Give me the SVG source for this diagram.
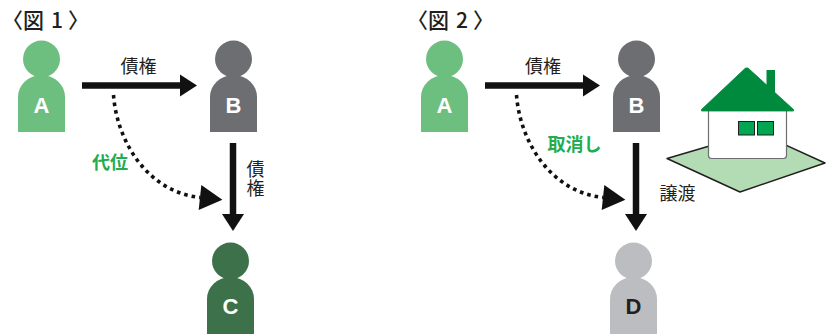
<svg xmlns="http://www.w3.org/2000/svg" xmlns:xlink="http://www.w3.org/1999/xlink" width="826" height="334" viewBox="0 0 826 334">
  <style>
    .jp { font-family: "Noto Sans CJK JP", "Noto Sans", sans-serif; font-size: 18px; fill: #231f20; }
    .vert { writing-mode: vertical-rl; text-orientation: upright; letter-spacing: 1px; }
    .title { font-size: 21px; font-weight: 500; }
    .green { fill: #22ac50; font-weight: 700; }
    .letter { font-family: "Liberation Sans", Arial, sans-serif; font-size: 22px; font-weight: 700; text-anchor: middle; }
    .solid { stroke: #111; stroke-width: 6.5; fill: none; }
    .dotted { stroke: #111; stroke-width: 3.6; fill: none; stroke-dasharray: 3.6 4; }
  </style>
  <defs>
    <!-- person silhouette, head centre at the origin -->
    <g id="person">
      <path d="M-23.5,73 V38 A23.5,22 0 0 1 23.5,38 V73 Z"/>
      <circle cx="0" cy="0" r="18.5"/>
    </g>
    <marker id="head" markerUnits="userSpaceOnUse" markerWidth="18" markerHeight="22" refX="0" refY="11" orient="auto" overflow="visible">
      <path d="M0,0 L17,11 L0,22 Z" fill="#111"/>
    </marker>
    <marker id="head-dot" markerUnits="userSpaceOnUse" markerWidth="23" markerHeight="25" refX="0" refY="12.5" orient="auto" overflow="visible">
      <path d="M0,0 L22.5,12.5 L0,25 Z" fill="#111"/>
    </marker>
  </defs>

  <!-- figure 1 -->
  <text class="jp title" y="27.5"><tspan x="2">〈</tspan><tspan x="23">図</tspan><tspan x="51">1</tspan><tspan x="68">〉</tspan></text>

  <g id="connectors">
    <line class="solid" x1="82" y1="85.5" x2="180" y2="85.5" marker-end="url(#head)"/>
    <line class="solid" x1="233" y1="143" x2="233" y2="214" marker-end="url(#head)"/>
    <path class="dotted" d="M113.5,95 C117,142 148,192 200,197.5" marker-end="url(#head-dot)"/>

    <line class="solid" x1="485" y1="85.5" x2="583" y2="85.5" marker-end="url(#head)"/>
    <line class="solid" x1="636" y1="143" x2="636" y2="214" marker-end="url(#head)"/>
    <path class="dotted" d="M516.5,95 C520,142 551,192 603,197.5" marker-end="url(#head-dot)"/>
  </g>

  <g id="label-saiken-1">
    <text class="jp" x="138.5" y="73" text-anchor="middle">債権</text>
  </g>
  <g id="label-saiken-2">
    <text class="jp vert" x="255.5" y="160">債権</text>
  </g>
  <g id="label-daii">
    <text class="jp green" x="110" y="169" text-anchor="middle">代位</text>
  </g>

  <g id="node-a1">
    <use xlink:href="#person" transform="translate(41.5,59)" fill="#6dbf80"/>
    <text class="letter" x="41.5" y="113" fill="#fff">A</text>
  </g>
  <g id="node-b1">
    <use xlink:href="#person" transform="translate(233.5,59)" fill="#6d6e71"/>
    <text class="letter" x="233.5" y="113" fill="#fff">B</text>
  </g>
  <g id="node-c1">
    <use xlink:href="#person" transform="translate(230.5,261)" fill="#3c714a"/>
    <text class="letter" x="230.5" y="313.5" fill="#fff">C</text>
  </g>

  <!-- figure 2 -->
  <text class="jp title" y="27.5"><tspan x="407">〈</tspan><tspan x="428">図</tspan><tspan x="456">2</tspan><tspan x="473">〉</tspan></text>

  <g id="label-saiken-3">
    <text class="jp" x="543" y="73" text-anchor="middle">債権</text>
  </g>
  <g id="label-torikeshi">
    <text class="jp green" x="574.5" y="151" text-anchor="middle">取消し</text>
  </g>
  <g id="label-joto">
    <text class="jp" x="677.5" y="200" text-anchor="middle">譲渡</text>
  </g>

  <g id="node-a2">
    <use xlink:href="#person" transform="translate(444.5,59)" fill="#6dbf80"/>
    <text class="letter" x="444.5" y="113" fill="#fff">A</text>
  </g>
  <g id="node-b2">
    <use xlink:href="#person" transform="translate(636.5,59)" fill="#6d6e71"/>
    <text class="letter" x="636.5" y="113" fill="#fff">B</text>
  </g>
  <g id="node-d2">
    <use xlink:href="#person" transform="translate(633.5,261)" fill="#bcbdc0"/>
    <text class="letter" x="633.5" y="313.5" fill="#231f20">D</text>
  </g>

  <g id="house">
    <polygon points="667,158.5 757,132 825,163 740,192" fill="#b3dbb4" stroke="#231f20" stroke-width="1.5" stroke-linejoin="round"/>
    <rect x="708.5" y="106" width="78" height="52.5" rx="3" fill="#fff" stroke="#6d6e71" stroke-width="1.2"/>
    <rect x="766.5" y="70" width="8.5" height="28" fill="#008a3e"/>
    <polygon points="701.5,109.5 745.5,68 748,68 793.5,109.5 793.5,111 701.5,111" fill="#008a3e" stroke="#008a3e" stroke-width="0.8" stroke-linejoin="round"/>
    <rect x="738.5" y="121.5" width="16" height="13.5" fill="#00a651" stroke="#231f20" stroke-width="1"/>
    <rect x="757.5" y="121.5" width="16" height="13.5" fill="#00a651" stroke="#231f20" stroke-width="1"/>
  </g>
</svg>
